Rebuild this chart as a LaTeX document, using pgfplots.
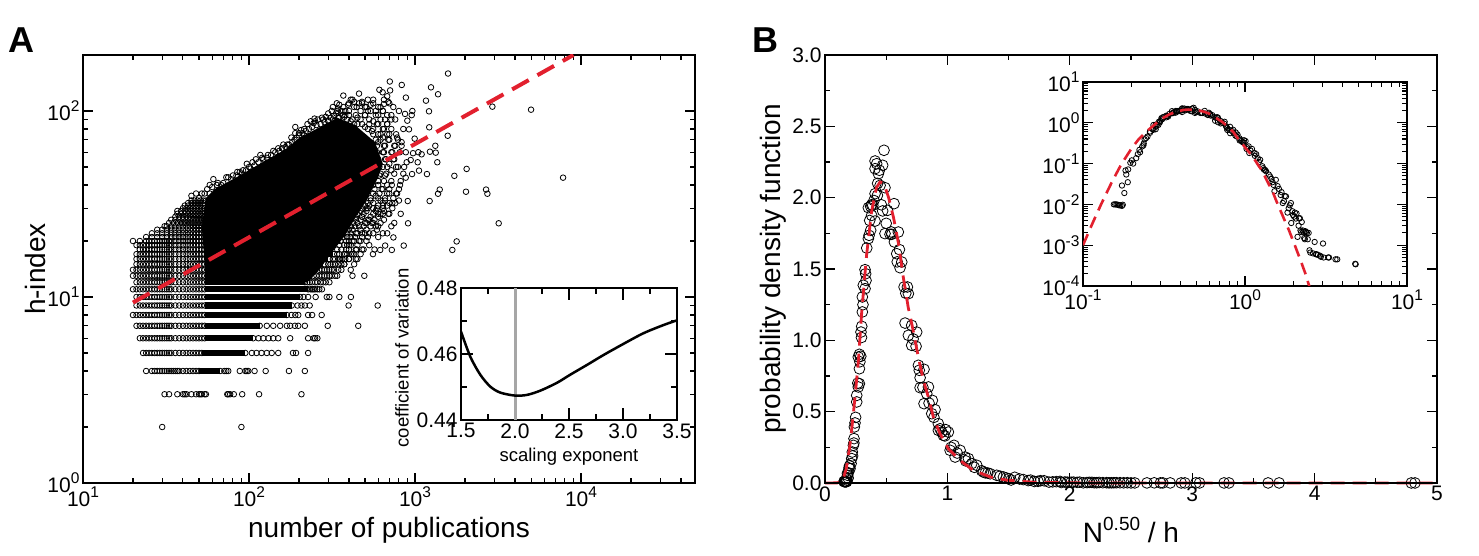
\documentclass[border=0pt]{standalone}
\usepackage{fontspec}
\usepackage{pgfplots}
\usepackage{pgfplotstable}
\pgfplotsset{compat=1.18}
\setmainfont{Liberation Sans}
\definecolor{fitred}{HTML}{E2202E}
\newcommand{\pw}[1]{10\raisebox{0.42em}{\fontsize{15.5}{15.5}\selectfont #1}}
\pgfplotstableread{
x y
.155 .010
.158 .010
.161 .010
.164 .0098
.167 .0095
.170 .0095
.174 .0092
.176 .0098
.180 .019
.174 .029
.189 .035
.185 .054
.183 .068
.190 .072
.196 .105
.200 .12
.204 .10
.213 .136
.218 .171
.223 .217
.232 .264
.237 .311
.240 .393
.245 .421
.259 .568
.259 .614
.272 .673
.281 .696
.281 .801
.272 .883
.281 .902
.292 .888
.294 1.058
.300 1.098
.305 1.199
.305 1.304
.327 1.362
.313 1.386
.332 1.467
.327 1.495
.341 1.647
.354 1.713
.360 1.736
.373 1.771
.354 1.930
.373 1.939
.390 1.946
.381 1.876
.409 1.836
.409 2.028
.428 2.016
.436 2.168
.409 2.203
.422 2.238
.409 2.257
.444 2.192
.471 2.227
.482 2.332
.450 2.086
.490 2.070
.471 1.907
.510 1.911
.564 1.958
.490 1.748
.531 1.743
.545 1.743
.599 1.759
.567 1.689
.586 1.607
.608 1.636
.627 1.549
.613 1.509
.646 1.374
.673 1.374
.681 1.327
.654 1.121
.708 1.105
.681 1.035
.749 1.058
.708 .965
.744 .958
.763 .825
.809 .797
.777 .738
.845 .673
.777 .668
.831 .626
.877 .579
.809 .556
.899 .514
.872 .486
.926 .416
.986 .374
.954 .357
.926 .369
1.008 .357
.967 .334
1.022 .229
1.054 .264
1.063 .182
1.104 .229
1.144 .182
1.172 .171
1.199 .136
1.240 .124
1.280 .086
1.294 .077
1.310 .071
1.349 .065
1.403 .054
1.458 .042
.225 .19
.236 .28
.25 .46
.268 .70
.285 .85
.298 1.02
.31 1.25
.335 1.42
.365 1.84
.38 1.95
.40 1.98
.43 2.10
.46 1.95
.50 1.82
.54 1.76
.59 1.55
.66 1.33
.72 1.01
.77 .79
.80 .67
.85 .56
.89 .46
.94 .38
.98 .33
1.03 .25
1.08 .21
1.15 .155
1.22 .11
1.33 .07
1.43 .048
1.48 .035
1.5 .03
1.52 .021
1.55 .040
1.59 .028
1.62 .024
1.66 .017
1.68 .020
1.71 .0108
1.74 .012
1.76 .016
1.79 .0157
1.83 .0063
1.86 .008
1.89 .0095
1.92 .0108
1.93 .0035
1.96 .0068
1.98 .0055
2.01 .0050
2.03 .0063
2.06 .0045
2.08 .006
2.11 .0016
2.14 .003
2.16 .0045
2.18 .0046
2.20 .0023
2.22 .0021
2.24 .0037
2.27 .0023
2.30 .0021
2.32 .0015
2.34 .0014
2.36 .0022
2.38 .0021
2.41 .002
2.44 .0014
2.47 .002
2.50 .00075
2.53 .00066
2.63 .00063
2.69 .0012
2.74 .0006
2.76 .0006
2.82 .00058
2.91 .00055
2.94 .00052
3.03 .0011
3.06 .0005
3.26 .0005
3.30 .0005
3.62 .00045
3.71 .00045
4.79 .00035
4.82 .00034
}\pdfdata
\pgfplotstableread{
x y
.10 .001
.115 .0036
.13 .0105
.15 .034
.172 .095
.20 .24
.22 .39
.245 .60
.272 .85
.30 1.2
.34 1.6
.38 1.90
.42 2.07
.45 2.11
.48 2.10
.52 2.0
.56 1.86
.60 1.68
.64 1.44
.68 1.23
.72 1.07
.763 .88
.804 .72
.845 .60
.886 .46
.94 .345
1.008 .24
1.10 .16
1.21 .09
1.28 .065
1.35 .042
1.485 .02
1.55 .013
1.7 .0055
1.87 .0023
2.05 .0009
2.2 .00043
2.35 .00021
2.49 .0001
2.55 .00007
}\fitdata
\pgfplotsset{
  common/.style={
    scale only axis, anchor=south west, clip mode=individual,
    tick align=inside, xtick pos=both, ytick pos=both,
    axis line style={line width=1.5pt},
    tick style={line width=1.1pt,black},
    major tick length=10pt, minor tick length=5pt,
    tick label style={font=\fontsize{21}{23}\selectfont},
  },
  dots/.style={only marks, mark=o, mark size=2.8pt, mark options={line width=0.8pt,black}, black, forget plot},
}
\begin{document}
\begin{tikzpicture}
\path[use as bounding box] (0,0) rectangle (1479pt,556pt);
% ---------------- panel A
\begin{axis}[common, at={(83pt,73pt)}, width=612pt, height=428pt,
  xmode=log, ymode=log, xmin=10, xmax=48600, ymin=1, ymax=200,
  xtick={10,100,1000,10000}, xticklabels={\pw{1},\pw{2},\pw{3},\pw{4}},
  ytick={1,10,100}, yticklabels={\pw{0},\pw{1},\pw{2}},
  minor xtick={20,30,40,50,60,70,80,90,200,300,400,500,600,700,800,900,2000,3000,4000,5000,6000,7000,8000,9000,20000,30000,40000},
  minor ytick={2,3,4,5,6,7,8,9,20,30,40,50,60,70,80,90,200},
  xlabel={number of publications}, ylabel={h-index},
  xlabel style={font=\fontsize{28}{30}\selectfont, at={(axis description cs:0.5,-0.11)}, anchor=center},
  ylabel style={font=\fontsize{28}{30}\selectfont, at={(axis description cs:-0.0784,0.5)}, anchor=center},
]
% dense core of the cloud
\addplot[fill=black, draw=none, forget plot] coordinates {
 (55,12)(52,24)(55,34)(62,38)(88,45)(125,54)(165,62)(203,72)(268,82)(340,92)(435,84)(574,68)(640,52)(600,44)(510,33)(440,27)(380,21.5)(310,17)(265,14)(225,12)} -- cycle;
% dense parts of the integer rows
\addplot[black,line width=6.4pt,forget plot] coordinates {(50,4)(67,4)};
\addplot[black,line width=6.4pt,forget plot] coordinates {(52,5)(95,5)};
\addplot[black,line width=6.4pt,forget plot] coordinates {(54,6)(106,6)};
\addplot[black,line width=6.4pt,forget plot] coordinates {(54,7)(116,7)};
\addplot[black,line width=6.4pt,forget plot] coordinates {(54,8)(169,8)};
\addplot[black,line width=6.4pt,forget plot] coordinates {(54,9)(181,9)};
\addplot[black,line width=6.4pt,forget plot] coordinates {(54,10)(203,10)};
\addplot[black,line width=6.4pt,forget plot] coordinates {(54,11)(227,11)};
\addplot[black,line width=6.4pt,forget plot] coordinates {(54,12)(217,12)};
\addplot[black,line width=6.4pt,forget plot] coordinates {(54,13)(240,13)};
\addplot[black,line width=6.4pt,forget plot] coordinates {(54,14)(258,14)};
\addplot[black,line width=6.4pt,forget plot] coordinates {(54,15)(280,15)};
\addplot[black,line width=6.4pt,forget plot] coordinates {(54,16)(300,16)};
\addplot[black,line width=6.4pt,forget plot] coordinates {(54,17)(320,17)};
% low rows, read point by point
\addplot[dots] coordinates {(30,2)(90,2)
 (31,3)(33,3)(37,3)(40,3)(41,3)(42,3)(45,3)(48,3)(50,3)(51,3)(52,3)(54,3)(55,3)(74,3)(75,3)(77,3)(81,3)(91,3)(115,3)(207,3)
 (24,4)(26,4)(27,4)(28,4)(29,4)(30,4)(31,4)(32,4)(33,4)(34,4)(35,4)(36,4)(37,4)(38,4)(40,4)(42,4)(44,4)(46,4)(48,4)(50,4)(67,4)(71,4)(73,4)(75,4)(88,4)(95,4)(97,4)(99,4)(108,4)(126,4)(174,4)(217,4)
 (23,5)(24,5)(25,5)(26,5)(27,5)(28,5)(29,5)(30,5)(31,5)(32,5)(33,5)(34,5)(36,5)(38,5)(40,5)(42,5)(44,5)(46,5)(48,5)(50,5)(52,5)(95,5)(104,5)(111,5)(119,5)(128,5)(137,5)(150,5)(184,5)(192,5)(227,5)
 (22,6)(23,6)(24,6)(25,6)(26,6)(27,6)(28,6)(29,6)(30,6)(31,6)(32,6)(33,6)(34,6)(36,6)(38,6)(40,6)(42,6)(44,6)(46,6)(48,6)(50,6)(52,6)(54,6)(106,6)(114,6)(122,6)(131,6)(140,6)(150,6)(177,6)(227,6)(245,6)(250,6)(258,6)
 (21,7)(22,7)(23,7)(24,7)(25,7)(26,7)(27,7)(28,7)(29,7)(30,7)(31,7)(32,7)(33,7)(34,7)(36,7)(38,7)(40,7)(42,7)(44,7)(46,7)(48,7)(50,7)(52,7)(54,7)(116,7)(128,7)(140,7)(154,7)(169,7)(177,7)(189,7)(198,7)(217,7)(298,7)(455,7)
 (20,8)(21,8)(22,8)(23,8)(24,8)(25,8)(26,8)(27,8)(28,8)(29,8)(30,8)(31,8)(32,8)(33,8)(34,8)(36,8)(38,8)(40,8)(42,8)(44,8)(46,8)(48,8)(50,8)(52,8)(54,8)(169,8)(180,8)(190,8)(198,8)(227,8)(240,8)(274,8)
 (21,9)(22,9)(23,9)(24,9)(25,9)(26,9)(27,9)(28,9)(29,9)(30,9)(31,9)(32,9)(33,9)(34,9)(36,9)(38,9)(40,9)(42,9)(44,9)(46,9)(48,9)(50,9)(52,9)(54,9)(181,9)(196,9)(207,9)(217,9)(232,9)(398,9)(596,9)
 (21,10)(22,10)(23,10)(24,10)(25,10)(26,10)(27,10)(28,10)(29,10)(30,10)(31,10)(32,10)(33,10)(34,10)(36,10)(38,10)(40,10)(42,10)(44,10)(46,10)(48,10)(50,10)(52,10)(54,10)(203,10)(213,10)(227,10)(252,10)(294,10)(305,10)(350,10)(411,10)
 (20,11)(21,11)(22,11)(23,11)(24,11)(25,11)(26,11)(27,11)(28,11)(29,11)(30,11)(31,11)(32,11)(33,11)(34,11)(36,11)(38,11)(40,11)(42,11)(44,11)(46,11)(48,11)(50,11)(52,11)(54,11)(227,11)(235,11)(240,11)(245,11)(250,11)(258,11)(265,11)(275,11)
 (21,12)(22,12)(23,12)(24,12)(25,12)(26,12)(27,12)(28,12)(29,12)(30,12)(31,12)(32,12)(33,12)(34,12)(36,12)(38,12)(40,12)(42,12)(44,12)(46,12)(48,12)(50,12)(52,12)(54,12)(217,12)(225,12)(232,12)(240,12)(250,12)(258,12)(270,12)(280,12)(290,12)(305,12)
 (20,13)(21,13)(22,13)(23,13)(24,13)(25,13)(26,13)(27,13)(28,13)(29,13)(30,13)(31,13)(32,13)(33,13)(34,13)(36,13)(38,13)(40,13)(42,13)(44,13)(46,13)(48,13)(50,13)(52,13)(54,13)(245,13)(255,13)(265,13)(275,13)(285,13)(295,13)(305,13)(315,13)(330,13)(340,13)(420,13)(495,13)
 (20,14)(21,14)(22,14)(23,14)(24,14)(25,14)(26,14)(27,14)(28,14)(29,14)(30,14)(31,14)(32,14)(33,14)(34,14)(36,14)(38,14)(40,14)(42,14)(44,14)(46,14)(48,14)(50,14)(52,14)(54,14)(265,14)(275,14)(285,14)(295,14)(305,14)(315,14)(325,14)(345,14)(360,14)
 (21,15)(22,15)(23,15)(24,15)(25,15)(26,15)(27,15)(28,15)(29,15)(30,15)(31,15)(32,15)(33,15)(34,15)(36,15)(38,15)(40,15)(42,15)(44,15)(46,15)(48,15)(50,15)(52,15)(54,15)(285,15)(300,15)(310,15)(320,15)(330,15)(345,15)(360,15)(375,15)
 (21,16)(22,16)(23,16)(24,16)(25,16)(26,16)(27,16)(28,16)(29,16)(30,16)(31,16)(32,16)(33,16)(34,16)(36,16)(38,16)(40,16)(42,16)(44,16)(46,16)(48,16)(50,16)(52,16)(54,16)(305,16)(320,16)(330,16)(345,16)(355,16)(365,16)(380,16)(400,16)(440,16)
 (21,17)(22,17)(23,17)(24,17)(25,17)(26,17)(27,17)(28,17)(29,17)(30,17)(31,17)(32,17)(33,17)(34,17)(36,17)(38,17)(40,17)(42,17)(44,17)(46,17)(48,17)(50,17)(52,17)(54,17)(325,17)(340,17)(350,17)(375,17)(390,17)(411,17)(430,17)(558,17)
 (22,18)(23,18)(24,18)(25,18)(26,18)(27,18)(28,18)(29,18)(30,18)(31,18)(32,18)(33,18)(34,18)(36,18)(38,18)(40,18)(42,18)(44,18)(46,18)(48,18)(50,18)(52,18)(54,18)(340,18)(360,18)(385,18)(400,18)(445,18)(480,18)
 (21,19)(22,19)(23,19)(24,19)(25,19)(26,19)(27,19)(28,19)(29,19)(30,19)(31,19)(32,19)(33,19)(34,19)(36,19)(38,19)(40,19)(42,19)(44,19)(46,19)(48,19)(50,19)(52,19)(54,19)(350,19)(375,19)(390,19)(410,19)(450,19)
 (20,20)(22,20)(24,20)(25,20)(26,20)(27,20)(28,20)(29,20)(30,20)(31,20)(32,20)(33,20)(34,20)(36,20)(38,20)(40,20)(42,20)(44,20)(46,20)(48,20)(50,20)(52,20)(54,20)(355,20)(385,20)(400,20)(430,20)(470,20)
 (24,21)(26,21)(28,21)(30,21)(32,21)(34,21)(36,21)(38,21)(40,21)(42,21)(44,21)(46,21)(48,21)(50,21)(52,21)(54,21)(370,21)(390,21)(410,21)(435,21)(480,21)(520,21)
 (26,22)(28,22)(30,22)(32,22)(34,22)(36,22)(38,22)(40,22)(42,22)(44,22)(46,22)(48,22)(50,22)(52,22)(54,22)(390,22)(410,22)(450,22)(500,22)
 (28,23)(30,23)(32,23)(34,23)(36,23)(38,23)(40,23)(42,23)(44,23)(46,23)(48,23)(50,23)(52,23)(54,23)(400,23)(420,23)(470,23)(510,23)(590,23)
 (31,24)(32,24)(34,24)(36,24)(38,24)(40,24)(42,24)(44,24)(46,24)(48,24)(50,24)(52,24)(54,24)(410,24)(435,24)(490,24)(540,24)(580,24)
 (33,25)(35,25)(37,25)(39,25)(41,25)(43,25)(45,25)(47,25)(49,25)(51,25)(53,25)(425,25)(450,25)(510,25)(550,25)(620,25)
 (34,26)(36,26)(38,26)(40,26)(42,26)(44,26)(46,26)(48,26)(50,26)(52,26)(54,26)(440,26)(470,26)(520,26)(570,26)(650,26)
 (36,27)(38,27)(40,27)(42,27)(44,27)(46,27)(48,27)(50,27)(52,27)(54,27)(440,27)(480,27)(540,27)(600,27)
 (37,28)(39,28)(41,28)(43,28)(45,28)(47,28)(49,28)(51,28)(53,28)(450,28)(490,28)(560,28)(620,28)(700,28)
 (37,29)(39,29)(41,29)(43,29)(45,29)(47,29)(49,29)(51,29)(53,29)(470,29)(510,29)(580,29)(650,29)
 (40,30)(42,30)(44,30)(46,30)(48,30)(50,30)(52,30)(54,30)(480,30)(520,30)(590,30)(640,30)(730,30)
 (41,31)(43,31)(45,31)(47,31)(49,31)(51,31)(53,31)(500,31)(530,31)(600,31)(680,31)
 (43,32)(45,32)(47,32)(49,32)(51,32)(53,32)(520,32)(560,32)(640,32)(700,32)(760,32)
 (45,33)(47,33)(49,33)(51,33)(53,33)(55,33)
 (45,35)(48,36)(50,34)(52,36)(54,36)(56,38)(58,40)(61,43)(65,41)(68,40)(73,44)(75,44)};
% upper fringe and right-hand scatter
\addplot[dots] coordinates {
 (58,36)(60,39)(64,40)(70,41)(78,43)(84,45)(90,46)(96,48)(102,49)(108,51)(114,53)(122,55)(128,56)(136,58)(144,60)(152,61)(158,63)(166,64)(174,66)(182,68)(188,70)(194,72)(200,74)(210,76)(220,78)(230,80)(240,82)(255,84)(270,85)(285,87)(300,89)(310,92)(325,94)(335,97)(345,98)(365,95)(375,93)(390,90)(410,88)(430,85)(345,92)(320,90)(280,90)(245,86)(215,74)
 (540,34)(600,34)(660,34)(740,34)(560,36)(610,36)(680,36)(780,36)(570,38)(630,38)(700,38)(800,38)(600,42)(650,42)(720,42)(820,42)(620,46)(670,46)(750,46)(850,46)(610,50)(680,50)(770,50)(860,50)(600,55)(660,55)(740,55)(590,60)(640,60)(730,60)(880,60)(590,65)(650,65)(760,65)(830,65)(580,70)(620,70)(700,70)(790,70)(560,75)(600,75)(680,75)(770,75)(520,80)(560,80)(640,80)(720,80)(480,85)(530,85)(590,85)(680,85)(420,90)(470,90)(530,90)(620,90)(720,90)(380,95)(440,95)(500,95)(580,95)(680,95)(340,100)(400,100)(470,100)(540,100)(640,100)(370,105)(430,105)(510,105)(600,105)(400,110)(480,110)(560,110)(420,115)(520,115)(650,115)
 (80,45)(85,47)(88,47)(92,48)(97,52)(100,50)(105,53)(110,55)(117,58)(120,56)(130,58)(140,61)(150,63)(161,66)(170,66)(180,72)(190,82)(190,76)(200,76)(206,79)(215,80)(225,85)(235,88)(248,91)(250,88)(260,90)(275,92)(290,93)(300,97)(315,100)(320,105)(338,110)(345,103)(350,108)(360,100)(370,121)(380,100)(395,108)(410,115)(430,112)(445,105)(460,124)(460,110)(480,112)(500,105)(520,100)(540,108)(560,115)(580,100)(600,95)(620,105)(638,126)(640,100)(660,90)(500,95)(450,92)(400,95)(350,92)(300,88)(560,88)(600,85)(650,80)(680,85)(700,75)(620,75)(500,82)(450,85)(550,78)(640,72)(660,65)(690,70)(720,60)(750,65)(780,72)(810,60)(830,68)(850,80)(760,90)(800,100)(740,105)(700,110)(610,130)(680,120)(720,95)(600,68)(650,60)(670,55)(700,52)(640,50)(610,45)(660,45)(680,40)(720,48)(750,55)(790,50)(600,40)(640,38)(560,40)(580,35)(620,33)(660,33)(700,36)(540,33)(560,30)(600,28)(640,28)(510,30)(530,26)(560,25)(600,24)(480,27)(500,25)(530,22)(560,22)(600,21)(640,22)(460,24)(480,22)(510,20)(440,22)(460,20)(490,18)(530,19)(570,18)(420,20)(440,18)(470,17)(400,19)(420,17)(450,16)(380,17)(400,16)(430,15)(350,16)(375,15)(410,14)
 (1581,159)(1248,134)(1376,123)(1164,113.6)(1214,99.6)(1218,81.7)(1574,73.6)(2924,105.5)(5000,101.6)(7796,43.8)(2046,48.8)(1726,44.8)(2028,36.8)(2679,37.8)(2729,35.9)(3192,24.9)(1782,19.9)(1678,17.9)(1409,37.8)(1376,35.9)(1225,32.8)(904,32.8)(908,24.9)(855,18.9)(741,20.9)(725,17.9)(661,18.9)(617,17.9)(820,28)(1362,53)(1325,65)(1230,60.4)(1333,59.7)(1180,45.8)(1057,47.8)(960,45.8)(879,43.8)(812,40)(725,40)(1038,53)(942,54.5)(891,53)(1096,58.5)(973,59.3)(1047,60)(995,71)(920,79.7)(964,100)(955,95)(899,88.7)(871,96.4)(881,118)(832,138)(705,144)(708,129)(690,112)(650,109)(640,31)(690,28)(730,32)(770,36)(800,33)(750,25)(720,24)(680,22)};
\addplot[fitred, line width=4pt, dash pattern=on 19pt off 10pt, forget plot] coordinates {(20,9.33)(9000,200)};
\end{axis}
% ---------------- inset of A
\begin{axis}[common, at={(461pt,136pt)}, width=216pt, height=132pt,
  xmin=1.5, xmax=3.5, ymin=0.44, ymax=0.48,
  major tick length=12pt, minor tick length=6pt,
  xtick={1.5,2,2.5,3,3.5}, xticklabels={1.5,2.0,2.5,3.0,3.5},
  ytick={0.44,0.46,0.48}, yticklabels={0.44,0.46,0.48},
  minor xtick={1.75,2.25,2.75,3.25}, minor ytick={0.45,0.47},
  xlabel={scaling exponent}, ylabel={coefficient of variation},
  xlabel style={font=\fontsize{18.5}{20}\selectfont, at={(axis description cs:0.5,-0.28)}, anchor=center},
  ylabel style={font=\fontsize{18.5}{20}\selectfont, at={(axis description cs:-0.273,0.47)}, anchor=center},
]
\addplot[gray!70, line width=3pt, forget plot] coordinates {(2,0.44)(2,0.48)};
\addplot[black, line width=2.5pt, smooth, forget plot] coordinates {(1.5,.4668)(1.586,.4592)(1.679,.4537)(1.772,.4501)(1.864,.4483)(2.0,.4474)(2.11,.4476)(2.235,.4489)(2.39,.4513)(2.51,.4537)(2.667,.4567)(2.82,.4597)(3.006,.4631)(3.19,.4663)(3.377,.4688)(3.5,.4702)};
\end{axis}
% ---------------- panel B
\begin{axis}[common, at={(825pt,73pt)}, width=612pt, height=428pt,
  xmin=0, xmax=5, ymin=0, ymax=3, clip=false, axis on top,
  xtick={0,1,2,3,4,5}, minor xtick={0.5,1.5,2.5,3.5,4.5},
  ytick={0,0.5,1,1.5,2,2.5,3}, yticklabels={0.0,0.5,1.0,1.5,2.0,2.5,3.0},
  minor ytick={0.25,0.75,1.25,1.75,2.25,2.75},
  xticklabels={0,1,2,3,4,5},
  xlabel={N\raisebox{0.42em}{\fontsize{19}{19}\selectfont 0.50} / h}, ylabel={probability density function},
  xlabel style={font=\fontsize{28}{30}\selectfont, at={(axis description cs:0.5,-0.11)}, anchor=center},
  ylabel style={font=\fontsize{28}{30}\selectfont, at={(axis description cs:-0.085,0.5)}, anchor=center},
]
\addplot[only marks, mark=o, mark size=5.4pt, mark options={line width=0.8pt,black}, black, forget plot] table[x=x,y=y] {\pdfdata};
\addplot[fitred, line width=2.8pt, dash pattern=on 14pt off 8pt, forget plot] coordinates {(0,0)(.10,.001)(.13,.0105)(.15,.034)(.172,.095)(.20,.24)(.22,.39)(.245,.60)(.272,.85)(.30,1.2)(.34,1.6)(.38,1.90)(.42,2.07)(.45,2.11)(.48,2.10)(.52,2.0)(.56,1.86)(.60,1.68)(.64,1.44)(.68,1.23)(.72,1.07)(.763,.88)(.804,.72)(.845,.60)(.886,.46)(.94,.345)(1.008,.24)(1.10,.16)(1.21,.09)(1.35,.042)(1.485,.02)(1.7,.0055)(2.05,.0009)(2.5,.0001)(5,0)};
\end{axis}
% ---------------- inset of B
\begin{axis}[common, at={(1083pt,270pt)}, width=324pt, height=204pt,
  xmode=log, ymode=log, xmin=0.1, xmax=10, ymin=1e-4, ymax=10,
  xtick={0.1,1,10}, xticklabels={\pw{-1},\pw{0},\pw{1}},
  ytick={1e-4,1e-3,1e-2,1e-1,1,10}, yticklabels={\pw{-4},\pw{-3},\pw{-2},\pw{-1},\pw{0},\pw{1}},
  minor xtick={.2,.3,.4,.5,.6,.7,.8,.9,2,3,4,5,6,7,8,9},
  minor ytick={2e-4,3e-4,4e-4,5e-4,6e-4,7e-4,8e-4,9e-4,2e-3,3e-3,4e-3,5e-3,6e-3,7e-3,8e-3,9e-3,2e-2,3e-2,4e-2,5e-2,6e-2,7e-2,8e-2,9e-2,.2,.3,.4,.5,.6,.7,.8,.9,2,3,4,5,6,7,8,9},
]
\addplot[only marks, mark=o, mark size=2.7pt, mark options={line width=0.8pt,black}, black, forget plot] table[x=x,y=y] {\pdfdata};
\addplot[fitred, line width=2.6pt, dash pattern=on 12pt off 7pt, forget plot] table[x=x,y=y] {\fitdata};
\end{axis}
\node[font=\fontsize{36}{38}\selectfont\bfseries] at (21pt,516pt) {A};
\node[font=\fontsize{36}{38}\selectfont\bfseries] at (765pt,516pt) {B};
\end{tikzpicture}
\end{document}
